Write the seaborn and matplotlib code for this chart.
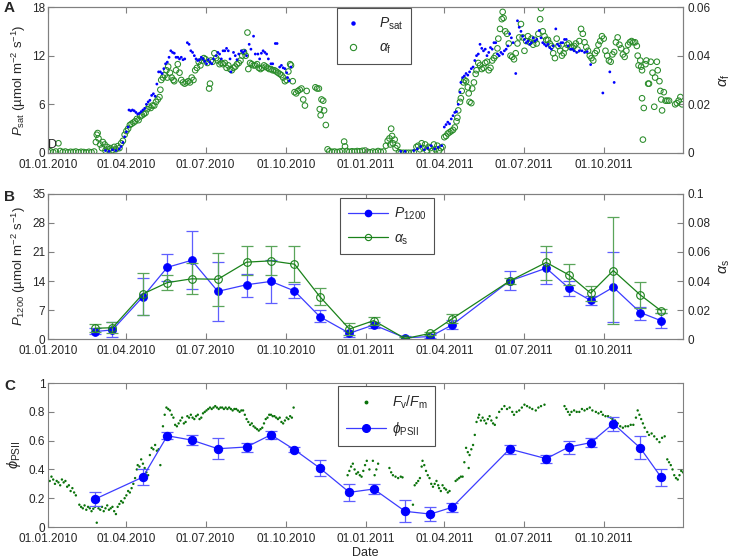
import numpy as np
import pandas as pd
import matplotlib
matplotlib.use("Agg")
import matplotlib.pyplot as plt
import matplotlib.dates as mdates
from matplotlib.lines import Line2D
import seaborn as sns

START = pd.Timestamp("2010-01-01")
END = START + pd.Timedelta(days=729)

# ---- panel A: daily light-saturated rate and initial slope (day since 01.01.2010, value)
psat_points = [
    (66, 0.3), (70, 0.2), (74, 0.4), (78, 0.3), (82, 0.5), (84, 0.8), (86, 1.3), (88, 2.0),
    (90, 2.6), (92, 3.2), (93, 5.3), (95, 5.2), (97, 5.3), (99, 5.2), (101, 5.0), (103, 4.8),
    (105, 4.9), (107, 5.1), (109, 5.3), (111, 5.5), (113, 6.0), (115, 6.3), (117, 6.5),
    (119, 7.1), (121, 7.3), (123, 7.0), (125, 8.5), (127, 10.0), (129, 10.0), (131, 9.8),
    (133, 10.4), (135, 11.0), (137, 11.2), (139, 11.8), (141, 12.6), (143, 12.4), (145, 12.3),
    (147, 11.8), (149, 11.8), (151, 11.6), (153, 11.8), (155, 11.5), (157, 11.6), (160, 13.6),
    (162, 13.4), (164, 12.6), (166, 12.4), (168, 12.0), (170, 11.6), (172, 11.4), (174, 11.5),
    (176, 11.8), (178, 11.6), (180, 11.3), (182, 11.0), (184, 11.5), (186, 11.2), (188, 11.0),
    (190, 11.6), (193, 12.0), (195, 12.4), (197, 12.2), (199, 11.6), (201, 12.6), (203, 12.6),
    (205, 12.9), (207, 12.6), (209, 11.6), (210, 10.0), (213, 12.4), (215, 12.0), (217, 11.5),
    (219, 12.2), (222, 12.6), (224, 12.4), (226, 12.6), (228, 12.0), (231, 13.4), (233, 12.8),
    (236, 14.4), (238, 12.2), (241, 12.2), (243, 11.6), (245, 12.3), (247, 12.6), (249, 12.4),
    (251, 12.2), (253, 11.6), (256, 11.0), (258, 11.0), (261, 13.5), (263, 13.5), (266, 10.6),
    (268, 10.8), (270, 10.5), (272, 10.4), (274, 9.9), (275, 9.3), (277, 8.9), (279, 10.6),
    (405, 0.2), (410, 0.2), (420, 0.3), (424, 0.5), (428, 0.8), (432, 0.4), (436, 0.6),
    (440, 0.9), (444, 0.5), (448, 0.7), (452, 0.9), (455, 3.2), (457, 3.5), (459, 3.8),
    (461, 3.6), (463, 4.2), (465, 4.6), (467, 5.0), (469, 5.1), (471, 6.0), (473, 7.5),
    (474, 8.7), (476, 9.3), (478, 9.5), (480, 9.8), (482, 9.6), (484, 10.0), (486, 10.4),
    (488, 10.6), (490, 11.4), (492, 12.0), (494, 12.2), (496, 13.4), (498, 12.9), (500, 12.6),
    (502, 12.8), (504, 12.0), (506, 12.4), (508, 13.0), (510, 12.8), (512, 13.6), (514, 13.6),
    (516, 12.2), (518, 12.0), (520, 12.4), (522, 12.2), (524, 12.6), (526, 12.8), (528, 13.2),
    (530, 14.7), (532, 14.2), (534, 13.6), (537, 9.8), (539, 16.3), (541, 15.5), (543, 15.0),
    (545, 14.4), (547, 14.0), (549, 13.6), (551, 13.8), (553, 13.4), (555, 13.6), (557, 14.2),
    (559, 13.8), (561, 14.0), (564, 15.1), (566, 14.2), (568, 13.6), (570, 13.4), (572, 13.2),
    (574, 13.4), (576, 13.0), (578, 12.8), (580, 13.2), (583, 15.3), (585, 13.4), (587, 13.2),
    (589, 13.6), (591, 13.6), (593, 14.0), (595, 14.0), (597, 13.2), (600, 12.8), (602, 12.8),
    (604, 12.6), (607, 12.4), (610, 12.6), (613, 12.6), (616, 12.4), (619, 12.5), (623, 10.9),
    (637, 7.4), (645, 10.0), (650, 8.7),
]

alpha_f_points = [
    (0, 0.0005), (3, 0.0007), (6, 0.0003), (9, 0.0006), (12, 0.004), (14, 0.0008), (17, 0.0004),
    (20, 0.0006), (23, 0.0003), (26, 0.0005), (29, 0.0004), (32, 0.0006), (35, 0.0003),
    (38, 0.0005), (41, 0.0004), (44, 0.0002), (47, 0.0005), (50, 0.0003), (53, 0.0006),
    (55, 0.0045), (56, 0.0075), (57, 0.0082), (58, 0.006), (60, 0.0035), (62, 0.002),
    (63, 0.0045), (65, 0.0035), (66, 0.001), (68, 0.0025), (70, 0.0015), (72, 0.002),
    (74, 0.0012), (76, 0.0025), (78, 0.0015), (80, 0.0028), (82, 0.002), (84, 0.004),
    (86, 0.005), (88, 0.0075), (90, 0.009), (92, 0.010), (94, 0.0115), (96, 0.012),
    (98, 0.0125), (100, 0.013), (102, 0.014), (104, 0.0135), (106, 0.015), (108, 0.0155),
    (110, 0.016), (112, 0.0165), (114, 0.018), (116, 0.019), (118, 0.0185), (120, 0.0195),
    (122, 0.0195), (124, 0.021), (126, 0.022), (128, 0.023), (129, 0.026), (130, 0.030),
    (132, 0.031), (134, 0.032), (136, 0.034), (137, 0.031), (138, 0.0355), (140, 0.033),
    (142, 0.031), (144, 0.030), (145, 0.0295), (147, 0.034), (149, 0.0365), (151, 0.033),
    (153, 0.030), (155, 0.029), (157, 0.0285), (159, 0.029), (161, 0.0295), (163, 0.029),
    (165, 0.031), (167, 0.030), (169, 0.034), (171, 0.035), (173, 0.0375), (175, 0.036),
    (177, 0.038), (179, 0.039), (181, 0.0385), (183, 0.037), (185, 0.0265), (186, 0.0285),
    (187, 0.038), (189, 0.0375), (191, 0.041), (193, 0.039), (195, 0.038), (197, 0.0365),
    (199, 0.037), (201, 0.0365), (203, 0.037), (205, 0.035), (207, 0.036), (209, 0.0345),
    (211, 0.034), (213, 0.035), (215, 0.0355), (217, 0.0365), (219, 0.037), (221, 0.038),
    (223, 0.040), (225, 0.0415), (227, 0.040), (229, 0.0495), (230, 0.0345), (232, 0.037),
    (234, 0.0365), (236, 0.036), (238, 0.036), (240, 0.0365), (242, 0.035), (244, 0.0345),
    (246, 0.035), (248, 0.036), (250, 0.0355), (252, 0.035), (254, 0.0345), (256, 0.0345),
    (258, 0.034), (260, 0.034), (262, 0.0335), (264, 0.033), (266, 0.0325), (268, 0.032),
    (270, 0.031), (272, 0.0295), (274, 0.030), (276, 0.0335), (278, 0.0365), (279, 0.036),
    (281, 0.0295), (283, 0.025), (285, 0.0245), (287, 0.0255), (289, 0.026), (291, 0.0265),
    (293, 0.022), (295, 0.0195), (297, 0.0255), (307, 0.027), (309, 0.0265), (311, 0.0265),
    (312, 0.018), (313, 0.0155), (314, 0.022), (316, 0.0215), (317, 0.0175), (319, 0.0115),
    (321, 0.0015), (323, 0.0007), (326, 0.0005), (329, 0.0006), (332, 0.0004), (335, 0.0006),
    (338, 0.0008), (340, 0.0047), (341, 0.0027), (343, 0.0008), (346, 0.0005), (349, 0.0007),
    (352, 0.0006), (355, 0.0008), (358, 0.0007), (361, 0.0009), (364, 0.001), (367, 0.0005),
    (370, 0.0003), (373, 0.0006), (376, 0.0004), (379, 0.0008), (382, 0.0005), (385, 0.0006),
    (388, 0.003), (390, 0.005), (392, 0.006), (393, 0.0035), (394, 0.010), (395, 0.007),
    (396, 0.004), (398, 0.0055), (399, 0.002), (401, 0.003), (403, 0.0003), (405, 0.0001),
    (408, 0.0001), (411, 0.0001), (414, 0.0001), (417, 0.0001), (420, 0.0002), (423, 0.0025),
    (425, 0.003), (427, 0.0015), (429, 0.004), (431, 0.002), (433, 0.0035), (435, 0.001),
    (437, 0.0025), (439, 0.002), (441, 0.0008), (443, 0.0035), (445, 0.0015), (447, 0.003),
    (449, 0.001), (451, 0.002), (453, 0.0025), (455, 0.0065), (457, 0.007), (459, 0.008),
    (461, 0.0085), (463, 0.009), (465, 0.0095), (467, 0.0105), (469, 0.013), (470, 0.0145),
    (471, 0.0175), (473, 0.021), (474, 0.0225), (475, 0.0255), (477, 0.029), (478, 0.030),
    (480, 0.0295), (482, 0.027), (483, 0.0245), (484, 0.021), (486, 0.0205), (487, 0.0265),
    (489, 0.029), (491, 0.0325), (492, 0.034), (494, 0.037), (496, 0.036), (498, 0.0345),
    (500, 0.035), (502, 0.037), (504, 0.0375), (506, 0.034), (508, 0.035), (510, 0.038),
    (512, 0.039), (514, 0.040), (516, 0.043), (517, 0.047), (519, 0.051), (521, 0.055),
    (522, 0.058), (523, 0.0555), (525, 0.050), (527, 0.049), (529, 0.045), (531, 0.040),
    (533, 0.0395), (535, 0.0385), (537, 0.041), (539, 0.045), (541, 0.0475), (543, 0.053),
    (545, 0.0475), (547, 0.042), (549, 0.046), (551, 0.048), (553, 0.0455), (555, 0.047),
    (557, 0.0445), (559, 0.0465), (561, 0.045), (563, 0.049), (565, 0.055), (566, 0.0595),
    (568, 0.050), (570, 0.048), (572, 0.0465), (574, 0.0465), (576, 0.045), (578, 0.044),
    (580, 0.041), (582, 0.039), (584, 0.047), (586, 0.044), (588, 0.042), (590, 0.040),
    (592, 0.041), (594, 0.043), (596, 0.0445), (598, 0.045), (600, 0.0435), (602, 0.0435),
    (604, 0.044), (606, 0.045), (608, 0.0425), (610, 0.046), (612, 0.051), (614, 0.049),
    (616, 0.0455), (618, 0.0435), (620, 0.042), (622, 0.040), (624, 0.039), (626, 0.038),
    (628, 0.041), (630, 0.042), (632, 0.0445), (634, 0.046), (636, 0.048), (638, 0.047),
    (640, 0.042), (642, 0.040), (644, 0.038), (646, 0.0375), (648, 0.0405), (650, 0.0415),
    (652, 0.0455), (654, 0.0475), (656, 0.0445), (658, 0.043), (660, 0.0405), (662, 0.0395),
    (664, 0.042), (666, 0.0445), (668, 0.0455), (670, 0.046), (672, 0.0455), (674, 0.0455),
    (676, 0.044), (677, 0.040), (678, 0.036), (680, 0.038), (681, 0.0355), (682, 0.034),
    (682, 0.0225), (683, 0.0055), (684, 0.0185), (686, 0.0365), (687, 0.038), (689, 0.0285),
    (690, 0.0285), (692, 0.0375), (694, 0.033), (696, 0.019), (697, 0.031), (699, 0.0375),
    (700, 0.034), (702, 0.0295), (703, 0.0255), (704, 0.022), (705, 0.0175), (707, 0.025),
    (709, 0.0215), (711, 0.0215), (713, 0.0215), (720, 0.020), (722, 0.0205), (724, 0.0215),
    (726, 0.023), (728, 0.020),
]

# ---- panel B: monthly light-curve parameters with error bars
b_dates = ["2010-02-24", "2010-03-16", "2010-04-20", "2010-05-18", "2010-06-15",
           "2010-07-15", "2010-08-17", "2010-09-14", "2010-10-11", "2010-11-09",
           "2010-12-13", "2011-01-10", "2011-02-15", "2011-03-16", "2011-04-10",
           "2011-06-15", "2011-07-27", "2011-08-22", "2011-09-16", "2011-10-12",
           "2011-11-12", "2011-12-06"]
p1200 = [1.8, 2.2, 10.2, 17.3, 19.0, 11.5, 13.1, 13.9, 11.6, 5.4, 1.4,
         3.4, 0.3, 0.6, 3.4, 14.0, 17.1, 12.3, 9.3, 12.5, 6.4, 4.4]
p1200_lo = [1.1, 0.4, 5.8, 14.0, 12.0, 4.4, 10.2, 8.8, 10.0, 4.0, 0.6,
            2.6, 0.0, 0.2, 2.4, 11.9, 13.2, 10.5, 8.1, 4.0, 4.6, 2.6]
p1200_hi = [2.6, 4.0, 14.7, 20.5, 26.1, 18.5, 15.7, 19.0, 13.2, 7.0, 1.9,
            4.2, 0.7, 1.1, 4.6, 16.3, 21.0, 14.0, 10.5, 21.1, 7.8, 6.2]
alpha_s = [0.0074, 0.0078, 0.0311, 0.0389, 0.0415, 0.0412, 0.0530, 0.0539, 0.0516,
           0.0293, 0.0069, 0.0127, 0.0003, 0.0039, 0.0140, 0.0400, 0.0528, 0.0442,
           0.0316, 0.0472, 0.0304, 0.0194]
alpha_s_lo = [0.0046, 0.0039, 0.0166, 0.0339, 0.0309, 0.0230, 0.0442, 0.0442, 0.0392,
              0.0235, 0.0028, 0.0097, 0.0, 0.0028, 0.0108, 0.0380, 0.0408, 0.0373,
              0.0263, 0.0104, 0.0212, 0.0177]
alpha_s_hi = [0.0101, 0.0120, 0.0454, 0.0442, 0.0523, 0.0592, 0.0638, 0.0638, 0.0638,
              0.0350, 0.0113, 0.0154, 0.0015, 0.0050, 0.0170, 0.0420, 0.0638, 0.0516,
              0.0369, 0.0839, 0.0392, 0.0207]

# ---- panel C: daily Fv/Fm and monthly phi_PSII
fvfm_points = [
    (0, 0.34), (2, 0.32), (4, 0.35), (6, 0.33), (8, 0.30), (10, 0.32), (12, 0.31), (14, 0.29),
    (16, 0.33), (18, 0.31), (20, 0.32), (22, 0.28), (24, 0.29), (26, 0.25), (28, 0.27),
    (30, 0.24), (32, 0.22), (36, 0.155), (38, 0.14), (40, 0.13), (42, 0.15), (44, 0.12),
    (46, 0.14), (48, 0.13), (50, 0.11), (52, 0.127), (54, 0.14), (56, 0.03), (58, 0.13),
    (60, 0.12), (62, 0.14), (64, 0.11), (66, 0.13), (68, 0.15), (70, 0.12), (72, 0.13),
    (74, 0.14), (76, 0.11), (78, 0.09), (80, 0.14), (82, 0.16), (84, 0.18), (86, 0.17),
    (88, 0.20), (90, 0.22), (92, 0.25), (94, 0.24), (96, 0.27), (98, 0.30), (100, 0.34),
    (102, 0.40), (103, 0.43), (105, 0.42), (107, 0.47), (109, 0.44), (111, 0.41), (113, 0.38),
    (115, 0.36), (117, 0.50), (119, 0.55), (121, 0.54), (123, 0.57), (125, 0.53), (127, 0.54),
    (129, 0.43), (132, 0.70), (134, 0.78), (136, 0.83), (138, 0.82), (140, 0.81), (142, 0.78),
    (144, 0.76), (146, 0.71), (148, 0.70), (150, 0.72), (152, 0.74), (154, 0.76), (156, 0.72),
    (158, 0.73), (160, 0.77), (162, 0.76), (164, 0.78), (166, 0.76), (168, 0.75), (170, 0.77),
    (172, 0.78), (174, 0.75), (176, 0.76), (178, 0.79), (180, 0.80), (182, 0.81), (184, 0.82),
    (186, 0.83), (188, 0.82), (190, 0.83), (192, 0.84), (194, 0.83), (196, 0.82), (198, 0.83),
    (200, 0.83), (202, 0.82), (204, 0.83), (206, 0.82), (208, 0.83), (210, 0.82), (212, 0.81),
    (214, 0.82), (216, 0.82), (218, 0.81), (220, 0.80), (222, 0.81), (224, 0.81), (226, 0.78),
    (228, 0.75), (230, 0.73), (232, 0.71), (234, 0.72), (236, 0.70), (238, 0.69), (240, 0.68),
    (242, 0.67), (244, 0.68), (246, 0.69), (248, 0.72), (250, 0.75), (252, 0.76), (254, 0.78),
    (256, 0.78), (258, 0.77), (260, 0.77), (262, 0.76), (264, 0.75), (266, 0.76), (268, 0.73),
    (270, 0.72), (272, 0.74), (274, 0.76), (276, 0.75), (278, 0.77), (280, 0.76), (282, 0.83),
    (344, 0.36), (346, 0.39), (348, 0.42), (350, 0.44), (352, 0.40), (354, 0.37), (356, 0.38),
    (358, 0.36), (360, 0.35), (362, 0.39), (364, 0.43), (366, 0.46), (369, 0.40), (373, 0.46),
    (375, 0.36), (377, 0.40), (379, 0.44), (392, 0.41), (394, 0.38), (396, 0.36), (399, 0.35),
    (402, 0.34), (405, 0.35), (407, 0.345), (419, 0.155), (421, 0.29), (423, 0.305),
    (425, 0.32), (427, 0.34), (429, 0.42), (430, 0.46), (432, 0.43), (434, 0.39), (436, 0.36),
    (438, 0.34), (440, 0.30), (442, 0.28), (444, 0.30), (446, 0.32), (448, 0.29), (449, 0.27),
    (451, 0.25), (453, 0.29), (455, 0.27), (457, 0.26), (459, 0.24), (461, 0.25), (468, 0.32),
    (470, 0.33), (472, 0.34), (474, 0.35), (476, 0.35), (478, 0.45), (480, 0.55), (482, 0.52),
    (483, 0.41), (484, 0.50), (486, 0.54), (488, 0.57), (490, 0.64), (492, 0.73), (494, 0.76),
    (495, 0.78), (497, 0.74), (499, 0.76), (501, 0.74), (503, 0.72), (505, 0.75), (507, 0.77),
    (509, 0.74), (511, 0.72), (513, 0.71), (515, 0.76), (518, 0.80), (521, 0.82), (524, 0.84),
    (527, 0.82), (530, 0.83), (533, 0.80), (535, 0.78), (538, 0.80), (541, 0.81), (544, 0.83),
    (547, 0.85), (550, 0.84), (553, 0.83), (556, 0.82), (560, 0.81), (563, 0.83), (566, 0.84),
    (570, 0.85), (593, 0.84), (595, 0.82), (597, 0.80), (599, 0.78), (601, 0.80), (604, 0.81),
    (607, 0.80), (610, 0.80), (613, 0.82), (616, 0.81), (619, 0.82), (622, 0.83), (625, 0.81),
    (629, 0.80), (632, 0.79), (635, 0.80), (637, 0.78), (640, 0.77), (643, 0.77), (646, 0.76),
    (648, 0.75), (651, 0.74), (654, 0.72), (657, 0.70), (660, 0.69), (663, 0.70), (666, 0.70),
    (669, 0.71), (672, 0.71), (675, 0.76), (677, 0.81), (679, 0.78), (681, 0.75), (683, 0.72),
    (685, 0.69), (688, 0.66), (690, 0.64), (693, 0.65), (696, 0.63), (699, 0.61), (702, 0.59),
    (705, 0.62), (708, 0.63), (711, 0.47), (713, 0.45), (715, 0.43), (717, 0.40), (719, 0.36),
    (721, 0.34), (723, 0.33), (725, 0.36), (727, 0.39), (729, 0.38),
]

c_dates = ["2010-02-24", "2010-04-20", "2010-05-18", "2010-06-15", "2010-07-15",
           "2010-08-17", "2010-09-14", "2010-10-11", "2010-11-09", "2010-12-13",
           "2011-01-10", "2011-02-15", "2011-03-16", "2011-04-10", "2011-06-15",
           "2011-07-27", "2011-08-22", "2011-09-16", "2011-10-12", "2011-11-12",
           "2011-12-06"]
phi_psii = [0.194, 0.347, 0.634, 0.604, 0.544, 0.556, 0.641, 0.537, 0.410, 0.241,
            0.264, 0.109, 0.090, 0.137, 0.542, 0.475, 0.556, 0.586, 0.718, 0.549, 0.345]
phi_lo = [0.144, 0.289, 0.611, 0.572, 0.470, 0.521, 0.613, 0.519, 0.352, 0.178,
          0.229, 0.035, 0.044, 0.106, 0.510, 0.447, 0.510, 0.553, 0.669, 0.472, 0.287]
phi_hi = [0.241, 0.405, 0.657, 0.637, 0.618, 0.586, 0.669, 0.556, 0.463, 0.301,
          0.299, 0.185, 0.137, 0.167, 0.572, 0.502, 0.600, 0.618, 0.764, 0.630, 0.403]

BLUE = "#0000ff"
BLUE_LINE = "#3c3cff"
BLUE_ERR = "#5f5fff"
GREEN = "#2a8c2a"
GREEN_LINE = "#1a821a"
GREEN_ERR = "#5aa55a"
DOT_GREEN = "#0a720a"
EDGE = "#808080"


def to_frame(points):
    df = pd.DataFrame(points, columns=["day", "value"])
    df["date"] = START + pd.to_timedelta(df["day"], unit="D")
    return df


def style_axis(ax):
    ax.set_xlim(START, END)
    ax.xaxis.set_major_locator(mdates.MonthLocator(bymonth=[1, 4, 7, 10]))
    ax.xaxis.set_major_formatter(mdates.DateFormatter("%d.%m.%Y"))
    ax.tick_params(axis="both", direction="in", length=4, width=0.8, color=EDGE,
                   labelsize=8.5, pad=2, top=True)
    ax.tick_params(axis="x", pad=4.5)
    for sp in ax.spines.values():
        sp.set_visible(True)
        sp.set_color(EDGE)
        sp.set_linewidth(0.8)
    ax.set_xlabel("")


def style_twin(ax2):
    ax2.tick_params(axis="y", direction="in", length=4, width=0.8, color=EDGE,
                    labelsize=8.5, pad=3)
    for sp in ax2.spines.values():
        sp.set_color(EDGE)
        sp.set_linewidth(0.8)


def make_legend(ax, handles, labels, anchor, hlen, tpad):
    leg = ax.legend(handles, labels, loc="upper left", bbox_to_anchor=anchor,
                    borderaxespad=0, fontsize=10, handlelength=hlen, handletextpad=tpad,
                    borderpad=0.55, labelspacing=0.65, fancybox=False, framealpha=1,
                    edgecolor="#505050")
    leg.get_frame().set_linewidth(0.8)
    return leg


sns.set_theme(style="ticks")
plt.rcParams["font.family"] = ["Liberation Sans", "DejaVu Sans"]
plt.rcParams["mathtext.fontset"] = "custom"
plt.rcParams["mathtext.rm"] = "Liberation Sans"
plt.rcParams["mathtext.it"] = "Liberation Sans:italic"
plt.rcParams["mathtext.bf"] = "Liberation Sans:bold"

fig = plt.figure(figsize=(7.37, 5.6), dpi=100)
L, W = 0.0651, 0.8616
axA = fig.add_axes([L, 0.7268, W, 0.2607])
axB = fig.add_axes([L, 0.3946, W, 0.2590])
axC = fig.add_axes([L, 0.0589, W, 0.2570])

# ---------------- A
psat = to_frame(psat_points)
alpha_f = to_frame(alpha_f_points)
axA2 = axA.twinx()
sns.scatterplot(data=alpha_f, x="date", y="value", ax=axA2, marker="o", s=16,
                facecolor="none", edgecolor=GREEN, linewidth=0.75, legend=False)
sns.scatterplot(data=psat, x="date", y="value", ax=axA, marker="o", s=4,
                color=BLUE, edgecolor="none", legend=False)
axA.set_zorder(axA2.get_zorder() + 1)
axA.patch.set_visible(False)
style_axis(axA)
axA.set_ylim(0, 18)
axA.set_yticks([0, 6, 12, 18])
axA.set_ylabel("$P_{\\mathrm{sat}}$ (\u00b5mol m$^{-2}$ s$^{-1}$)", fontsize=9.5, labelpad=3)
axA2.set_ylim(0, 0.06)
axA2.set_yticks([0, 0.02, 0.04, 0.06])
axA2.set_yticklabels(["0", "0.02", "0.04", "0.06"])
axA2.set_ylabel("$\\alpha_{\\mathrm{f}}$", fontsize=10.5, labelpad=5)
axA2.set_xlabel("")
style_twin(axA2)
axA.text(0.0, 0.015, "D", transform=axA.transAxes, fontsize=9, ha="left", va="bottom")
hA = [Line2D([], [], ls="none", marker="o", ms=2.2, color=BLUE),
      Line2D([], [], ls="none", marker="o", ms=4.5, mfc="none", mec=GREEN, mew=0.8)]
make_legend(axA, hA, ["$P_{\\mathrm{sat}}$", "$\\alpha_{\\mathrm{f}}$"],
            (0.455, 0.993), 1.2, 1.3)

# ---------------- B
b = pd.DataFrame({"date": pd.to_datetime(b_dates), "p1200": p1200,
                  "alpha_s": alpha_s})
p_err = [np.array(p1200) - np.array(p1200_lo), np.array(p1200_hi) - np.array(p1200)]
a_err = [np.array(alpha_s) - np.array(alpha_s_lo), np.array(alpha_s_hi) - np.array(alpha_s)]
axB2 = axB.twinx()
axB.errorbar(b["date"], b["p1200"], yerr=p_err, fmt="none", ecolor=BLUE_ERR,
             elinewidth=0.9, capsize=4, capthick=0.9)
sns.lineplot(data=b, x="date", y="p1200", ax=axB, color=BLUE_LINE, lw=0.9,
             marker="o", ms=5.5, mfc=BLUE, mec=BLUE)
axB2.errorbar(b["date"], b["alpha_s"], yerr=a_err, fmt="none", ecolor=GREEN_ERR,
              elinewidth=0.9, capsize=4, capthick=0.9)
sns.lineplot(data=b, x="date", y="alpha_s", ax=axB2, color=GREEN_LINE, lw=0.9,
             marker="o", ms=5.5, mfc="none", mec=GREEN_LINE, mew=0.8)
style_axis(axB)
axB.set_ylim(0, 35)
axB.set_yticks([0, 7, 14, 21, 28, 35])
axB.set_ylabel("$P_{\\mathrm{1200}}$ (\u00b5mol m$^{-2}$ s$^{-1}$)", fontsize=9.5, labelpad=3)
axB2.set_ylim(0, 0.1)
axB2.set_yticks([0, 0.02, 0.04, 0.06, 0.08, 0.1])
axB2.set_yticklabels(["0", "0.02", "0.04", "0.06", "0.08", "0.1"])
axB2.set_ylabel("$\\alpha_{\\mathrm{s}}$", fontsize=10.5, labelpad=5)
axB2.set_xlabel("")
style_twin(axB2)
hB = [Line2D([], [], color=BLUE_LINE, lw=0.9, marker="o", ms=4.5, mfc=BLUE, mec=BLUE),
      Line2D([], [], color=GREEN_LINE, lw=0.9, marker="o", ms=4.5, mfc="none",
             mec=GREEN_LINE, mew=0.8)]
make_legend(axB2, hB, ["$P_{\\mathrm{1200}}$", "$\\alpha_{\\mathrm{s}}$"],
            (0.46, 0.972), 2.9, 0.4)

# ---------------- C
fvfm = to_frame(fvfm_points)
c = pd.DataFrame({"date": pd.to_datetime(c_dates), "phi": phi_psii})
phi_err = [np.array(phi_psii) - np.array(phi_lo), np.array(phi_hi) - np.array(phi_psii)]
sns.scatterplot(data=fvfm, x="date", y="value", ax=axC, marker="o", s=3,
                color=DOT_GREEN, edgecolor="none", legend=False)
axC.errorbar(c["date"], c["phi"], yerr=phi_err, fmt="none", ecolor=BLUE_ERR,
             elinewidth=0.9, capsize=4, capthick=0.9)
sns.lineplot(data=c, x="date", y="phi", ax=axC, color=BLUE_LINE, lw=0.9,
             marker="o", ms=6, mfc=BLUE, mec=BLUE)
style_axis(axC)
axC.tick_params(axis="y", right=True, labelright=False)
axC.set_ylim(0, 1)
axC.set_yticks([0, 0.2, 0.4, 0.6, 0.8, 1.0])
axC.set_yticklabels(["0", "0.2", "0.4", "0.6", "0.8", "1"])
axC.set_ylabel("$\\phi_{\\mathrm{PSII}}$", fontsize=10.5, labelpad=4)
axC.set_xlabel("Date", fontsize=9, labelpad=1)
hC = [Line2D([], [], ls="none", marker="o", ms=1.8, color=DOT_GREEN),
      Line2D([], [], color=BLUE_LINE, lw=0.9, marker="o", ms=5.5, mfc=BLUE, mec=BLUE)]
make_legend(axC, hC, ["$F_{\\mathrm{v}}/F_{\\mathrm{m}}$", "$\\phi_{\\mathrm{PSII}}$"],
            (0.457, 0.979), 2.9, 0.4)

for letter, ypx in [("A", 1), ("B", 190), ("C", 379)]:
    fig.text(4 / 737, 1 - ypx / 560, letter, fontsize=11, fontweight="bold",
             ha="left", va="top")

fig.savefig("out.png", dpi=100)
